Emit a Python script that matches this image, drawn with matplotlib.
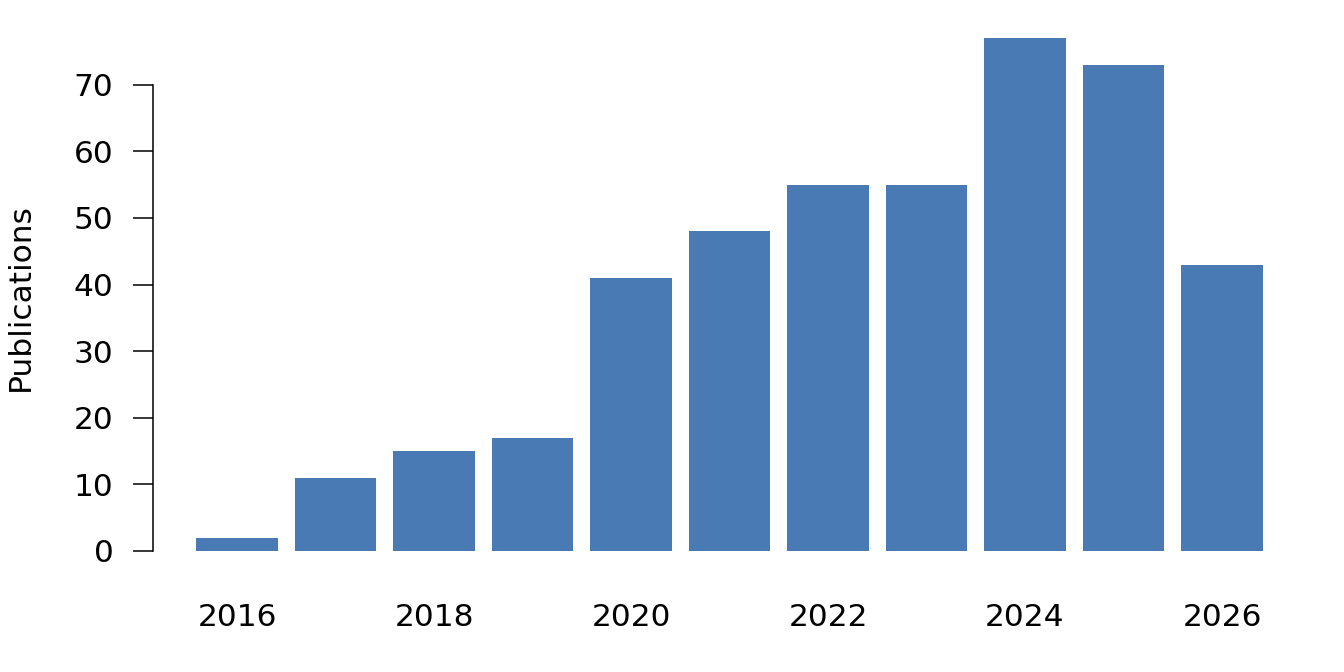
import numpy as np
import matplotlib.pyplot as plt

#%% data
years = np.arange(2016, 2027)
pubs = [2, 11, 15, 17, 41, 48, 55, 55, 77, 73, 43]
tick_years = [2016, 2018, 2020, 2022, 2024, 2026]
y_ticks = [0, 10, 20, 30, 40, 50, 60, 70]

#%% figure
W, H = 1344, 672
fig = plt.figure(figsize=(W / 100, H / 100), dpi=100)
# axes placed in pixels: left 153, right 1275, bottom 551, top 18
ax = fig.add_axes([153 / W, (H - 551) / H, (1275 - 153) / W, (551 - 18) / H])

ax.bar(years, pubs, width=0.83, color="#4a7ab4")

ax.set_xlim(2015.147, 2026.538)
ax.set_ylim(0, 80)

for s in ["top", "right", "bottom"]:
    ax.spines[s].set_visible(False)
ax.spines["left"].set_bounds(0, 70)
ax.spines["left"].set_linewidth(1.1)

ax.set_yticks(y_ticks)
ax.set_xticks(tick_years)
ax.tick_params(axis="y", length=14.4, width=1.1, pad=14, labelsize=22.5)
ax.tick_params(axis="x", length=0, pad=37.5, labelsize=22.5)

fig.text(20 / W, (H - 297) / H, "Publications", rotation=90,
         ha="center", va="center", fontsize=22.5)

fig.savefig("out.png", dpi=100)
